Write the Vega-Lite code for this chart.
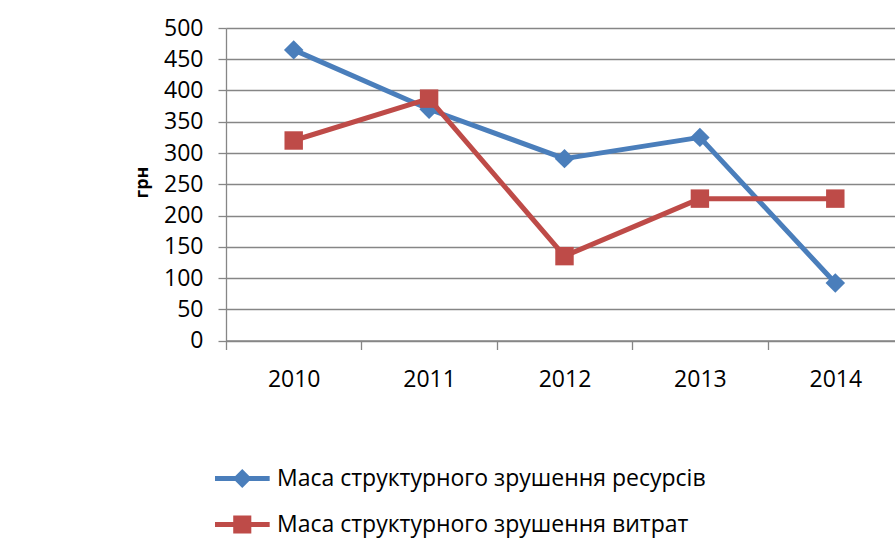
{
  "$schema": "https://vega.github.io/schema/vega-lite/v6.json",
  "width": 669,
  "height": 312.5,
  "autosize": {"type": "none"},
  "padding": {"left": 226, "top": 28, "right": 0, "bottom": 214.5},
  "background": "white",
  "config": {"view": {"stroke": null}},
  "data": {
    "values": [
      {"year": "2010", "series": "Маса структурного зрушення ресурсів", "value": 465},
      {"year": "2011", "series": "Маса структурного зрушення ресурсів", "value": 370},
      {"year": "2012", "series": "Маса структурного зрушення ресурсів", "value": 291},
      {"year": "2013", "series": "Маса структурного зрушення ресурсів", "value": 325},
      {"year": "2014", "series": "Маса структурного зрушення ресурсів", "value": 92},
      {"year": "2010", "series": "Маса структурного зрушення витрат", "value": 320},
      {"year": "2011", "series": "Маса структурного зрушення витрат", "value": 387},
      {"year": "2012", "series": "Маса структурного зрушення витрат", "value": 135},
      {"year": "2013", "series": "Маса структурного зрушення витрат", "value": 227},
      {"year": "2014", "series": "Маса структурного зрушення витрат", "value": 227}
    ]
  },
  "encoding": {
    "x": {
      "field": "year",
      "type": "ordinal",
      "bandPosition": 0.5,
      "scale": {"type": "band", "paddingInner": 0, "paddingOuter": 0, "range": [0, 677]},
      "axis": {
        "title": null,
        "labelAngle": 0,
        "tickBand": "extent",
        "grid": false,
        "tickSize": 9,
        "tickWidth": 1.3,
        "tickColor": "#868686",
        "domainColor": "#868686",
        "domainWidth": 1.3,
        "labelFont": "Open Sans",
        "labelFontSize": 23,
        "labelColor": "#000000",
        "labelPadding": 19
      }
    },
    "y": {
      "field": "value",
      "type": "quantitative",
      "scale": {"domain": [0, 500], "nice": false},
      "axis": {
        "values": [0, 50, 100, 150, 200, 250, 300, 350, 400, 450, 500],
        "title": "грн",
        "titleFont": "Open Sans",
        "titleFontWeight": "bold",
        "titleFontSize": 18,
        "titleColor": "#000000",
        "titleX": -79,
        "titleY": 154,
        "titleAngle": -90,
        "titleAlign": "center",
        "titleBaseline": "alphabetic",
        "tickSize": 8,
        "tickWidth": 1.3,
        "tickColor": "#868686",
        "domainColor": "#868686",
        "domainWidth": 1.3,
        "gridColor": "#868686",
        "gridWidth": 1.3,
        "labelFont": "Open Sans",
        "labelFontSize": 23,
        "labelColor": "#000000",
        "labelPadding": 15
      }
    },
    "color": {
      "field": "series",
      "type": "nominal",
      "scale": {
        "domain": ["Маса структурного зрушення ресурсів", "Маса структурного зрушення витрат"],
        "range": ["#4A7EBB", "#BE4B48"]
      },
      "legend": {
        "title": null,
        "orient": "none",
        "legendX": -11,
        "legendY": 437,
        "direction": "vertical",
        "labelFont": "Open Sans",
        "labelFontSize": 23,
        "labelColor": "#000000",
        "labelLimit": 1000,
        "labelOffset": 35,
        "rowPadding": 20,
        "symbolSize": 729,
        "encode": {
          "symbols": {
            "update": {
              "shape": {"signal": "datum.value === 'Маса структурного зрушення ресурсів' ? 'M-1,-0.18H3.05V0.18H-1Z M1.02,-0.7L1.72,0L1.02,0.7L0.32,0Z' : 'M-1,-0.18H3.05V0.18H-1Z M0.35,-0.67H1.69V0.67H0.35Z'"},
              "fill": {"signal": "datum.value === 'Маса структурного зрушення ресурсів' ? '#4A7EBB' : '#BE4B48'"},
              "stroke": {"value": "transparent"},
              "strokeWidth": {"value": 0},
              "size": {"value": 729},
              "opacity": {"value": 1},
              "fillOpacity": {"value": 1}
            }
          }
        }
      }
    }
  },
  "layer": [
    {
      "transform": [{"filter": "datum.series === 'Маса структурного зрушення ресурсів'"}],
      "mark": {"type": "line", "strokeWidth": 5, "strokeJoin": "round", "strokeCap": "round"}
    },
    {
      "transform": [{"filter": "datum.series === 'Маса структурного зрушення ресурсів'"}],
      "mark": {"type": "point", "filled": true, "opacity": 1, "size": 380, "shape": "diamond"}
    },
    {
      "transform": [{"filter": "datum.series === 'Маса структурного зрушення витрат'"}],
      "mark": {"type": "line", "strokeWidth": 5, "strokeJoin": "round", "strokeCap": "round"}
    },
    {
      "transform": [{"filter": "datum.series === 'Маса структурного зрушення витрат'"}],
      "mark": {"type": "point", "filled": true, "opacity": 1, "size": 340, "shape": "square"}
    }
  ]
}
